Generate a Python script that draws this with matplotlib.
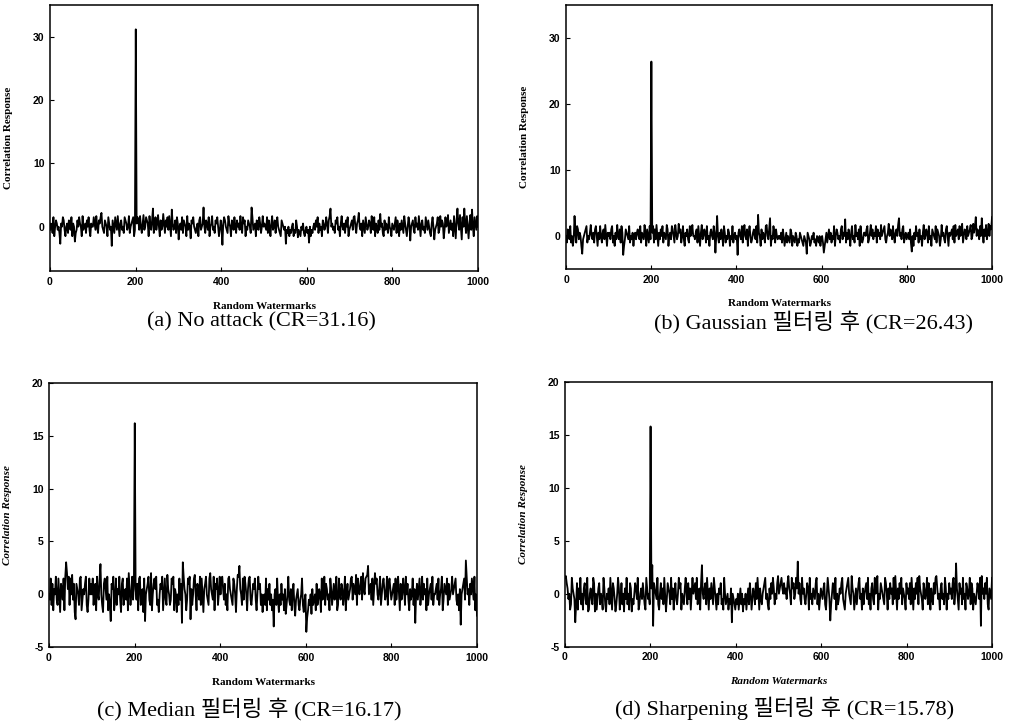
import numpy as np
import matplotlib
matplotlib.use("Agg")
import matplotlib.pyplot as plt

plt.rcParams["axes.unicode_minus"] = False

# Correlation response against 1000 random watermarks, one panel per attack.
# Noise samples are stored as compact strings, one character per sample.
# 'm' is zero; each step away from 'm' adds 0.5 up to three steps, then 0.17
# per further step (so 'q'/'i' = +/-1.67, 'y'/'a' = +/-3.03, '^' = -3.54).
noise_a = (
    "lnmkpjmonlmkcnmpoljmnkomlpjnmeklompnmjqlmnkompljnm"
    "mpnlqmkonptmlkonmjpnlmaomkpnlqmjnolmkponlmqkmnopjl"
    "mnpolqmknrlmponjqmloxkmplnrmjolmsnkomplqmjwnlmokpn"
    "gmnlpkonmjqlnmhonpmlkmnjoplmnymkonlpjmnqlmkonpmjlo"
    "mbnpomlkqnmjonlpmkomnlqmkpnojmlonmkyplmnjomlpnkmqm"
    "nmlpkomjnqlmoknpmlkjonmlmclkmjlkmnjlkomilkjmlnkjlm"
    "kldmjlkmnlompknlmjonlmpnkoqxmnlmkonplmjnqmlnkompjl"
    "mnolpqmknotmlnjomkpnlmonkqmlpjnmkolsmnkjolnmkpmljn"
    "mlnpkomjnlomkqnljmpnfmnolkpmnlqmjnolmkpnlomkjnpmgl"
    "mnpklqmonhlpmnrkmolnjqmhoxnlrmgpmxnkqmhnrlwmjpnlqm"
)
noise_b = (
    "mkonlpkmjlynkpolnmjclmnopkmlnqmlnkopmjnlpmknolqmjn"
    "mnlopkmjnlqmlokpnbjlonmlpkmlnjmnlnomlpknmlqnjomkpl"
    "mnpkolqmjnlompknmlqojmnlpomkqnlmrnokmpljnmolkpmnqm"
    "mlnokpmjnqlmonkplmjnomlpndmymknlomjpnkmlonjmlpkmnl"
    "mbnomlpknqmlojnpmklnomlpkznmjolnmkpqmlowjmlpnkomlm"
    "mlnkomjlnkmlkonjmlknmjlknmlkjmlkcnmljkmlnkljmlkmjl"
    "mkdjlnkmolnkmlpjmonlmkoplnmvknlomjnplmkqmnlojpmkln"
    "nmopklnqmolnmpkomnlqmnoplkmnrmonlpmknomqwmnlopkmnl"
    "mnlokemjnlpmnkolmjnqlmonkplmjonmlpkonmjlqmnlkopmjn"
    "mnolpkqmnolpmnrkmonlpmnoqlmrnpxmonlpmwnkomqlnrmpox"
)
noise_c = (
    "mlpkojnmqlkpmionlpjqysnqkpmrloieonmkpqjlnmoqkilpmo"
    "mpknojqmlpxmkiopnlqjmkdonqjlpknmqliopkmnlpjsnkmqlo"
    "mnlojpqkmnipdmnoqlksjmopnqklimonqjmplkrnmklpoqjnmi"
    "mkplocyqnmjlpoqenkmprmjonlqkpminoqmlkpsnmlqjonpkmq"
    "mpqnlokmjpqnmlkpominrqwnmkplqomjnpqlkmonpljmqnokmi"
    "lmkpjnlokmjlamnkplimkolmjnhkmqlknjmokglmnkjlmpkilm"
    "^fjlkmhnklmjoklnmiplmqkonlmjpnkmolnqjkpmlonkmqjmol"
    "mnpqlonmrkpnmoqlsnmpqrwmnolpknsopmlnqkmopnlmqkopnl"
    "mnokplnqmjolmpnkqmoljnlmpkncmolnpkmqlomnjpkmnolqkm"
    "mnolpkmnqjlonmpkolmnqmnoplkmjnbmnoplzqmnkompnlqjmg"
)
noise_d = (
    "pqonlmjkpnmlckojnlpkmjnolkpijmnlkpoimjlnokmljpnkim"
    "lnkpmjonlikmpnjlokminlpkmjonilkmonlpjkmnlomkjpnlmk"
    "mnwaonmlpkjmolnkpmilonmkplnjmolkmpnojmlknpmkolnjmp"
    "mnolpkmnjowmlnokpmjnlomkpnljmknmokljpmklmjlkncmlkj"
    "lkmjlnkmilkmjlnkomjlnmkolpmjnlkmnoplmkjnlompnkmloq"
    "mnopnmomnloqnmkpnolmpnymolkpmnlkmonjplmknmlopkmjln"
    "mlnokjmpnldkmonlpjmklnmoplkjmnopmlkqnmjlnkmoplmjnk"
    "mnolpkmjnolkpmnqjmlonmlkpomjnlomnkplqmjnlompknmljo"
    "mnlokpmjnlompkqnmljonlmpkomjnlkompqnlmjnolmkpnjmlo"
    "mnlopkmxnljomnkplmjonlmpkonjmlkmonlpaqmnlompkjnmlp"
)

noise_series = [noise_a, noise_b, noise_c, noise_d]
peak_x = 200
cr_values = [31.16, 26.43, 16.17, 15.78]
y_limits = [(-7, 35), (-5, 35), (-5, 20), (-5, 20)]
y_ticks = [[0, 10, 20, 30], [0, 10, 20, 30], [-5, 0, 5, 10, 15, 20], [-5, 0, 5, 10, 15, 20]]
x_ticks = [0, 200, 400, 600, 800, 1000]
captions = [
    "(a) No attack (CR=31.16)",
    "(b) Gaussian 필터링 후 (CR=26.43)",
    "(c) Median 필터링 후 (CR=16.17)",
    "(d) Sharpening 필터링 후 (CR=15.78)",
]
x_label = "Random Watermarks"
y_label = "Correlation Response"


def decode(s):
    out = []
    for ch in s:
        d = ord(ch) - ord("m")
        a = abs(d)
        v = 0.5 * a if a <= 3 else 1.5 + 0.17 * (a - 3)
        out.append(v if d >= 0 else -v)
    return np.array(out)


fig = plt.figure(figsize=(10.10, 7.26), dpi=100)

# [left, bottom, width, height] in figure fraction
rects = [
    [0.0495, 0.6267, 0.4238, 0.3664],
    [0.5604, 0.6295, 0.4218, 0.3636],
    [0.0485, 0.1084, 0.4238, 0.3645],
    [0.5594, 0.1092, 0.4228, 0.3650],
]
caption_pos = [(0.259, 0.557), (0.805, 0.557), (0.247, 0.024), (0.777, 0.024)]
ylabel_styles = ["normal", "normal", "italic", "italic"]
xlabel_styles = ["normal", "normal", "normal", "italic"]

for i in range(4):
    ax = fig.add_axes(rects[i])
    y = decode(noise_series[i])
    n = len(y)
    x = np.linspace(0, 1000, n)
    k = int(round(peak_x / (1000 / (n - 1))))
    y[k] = cr_values[i]
    ax.plot(x, y, color="black", lw=1.3)
    ax.set_xlim(0, 1000)
    ax.set_ylim(*y_limits[i])
    ax.set_xticks(x_ticks)
    ax.set_yticks(y_ticks[i])
    ax.tick_params(direction="in", length=3, width=0.8, pad=4)
    for lab in ax.get_xticklabels() + ax.get_yticklabels():
        lab.set_fontfamily("Liberation Sans")
        lab.set_fontweight("bold")
        lab.set_fontsize(7.5)
    for sp in ax.spines.values():
        sp.set_linewidth(1.1)
    ax.set_xlabel(x_label, family="Liberation Serif", weight="bold",
                  fontsize=8, style=xlabel_styles[i])
    ax.xaxis.set_label_coords(0.5, -0.115)
    ax.set_ylabel(y_label, family="Liberation Serif", weight="bold",
                  fontsize=8, style=ylabel_styles[i])
    ax.yaxis.set_label_coords(-0.086, 0.5)
    cx, cy = caption_pos[i]
    fig.text(cx, cy, captions[i], ha="center", va="center", fontsize=16,
             family=["Liberation Serif", "Noto Sans CJK KR"])

fig.savefig("out.png", dpi=100, facecolor="white")
